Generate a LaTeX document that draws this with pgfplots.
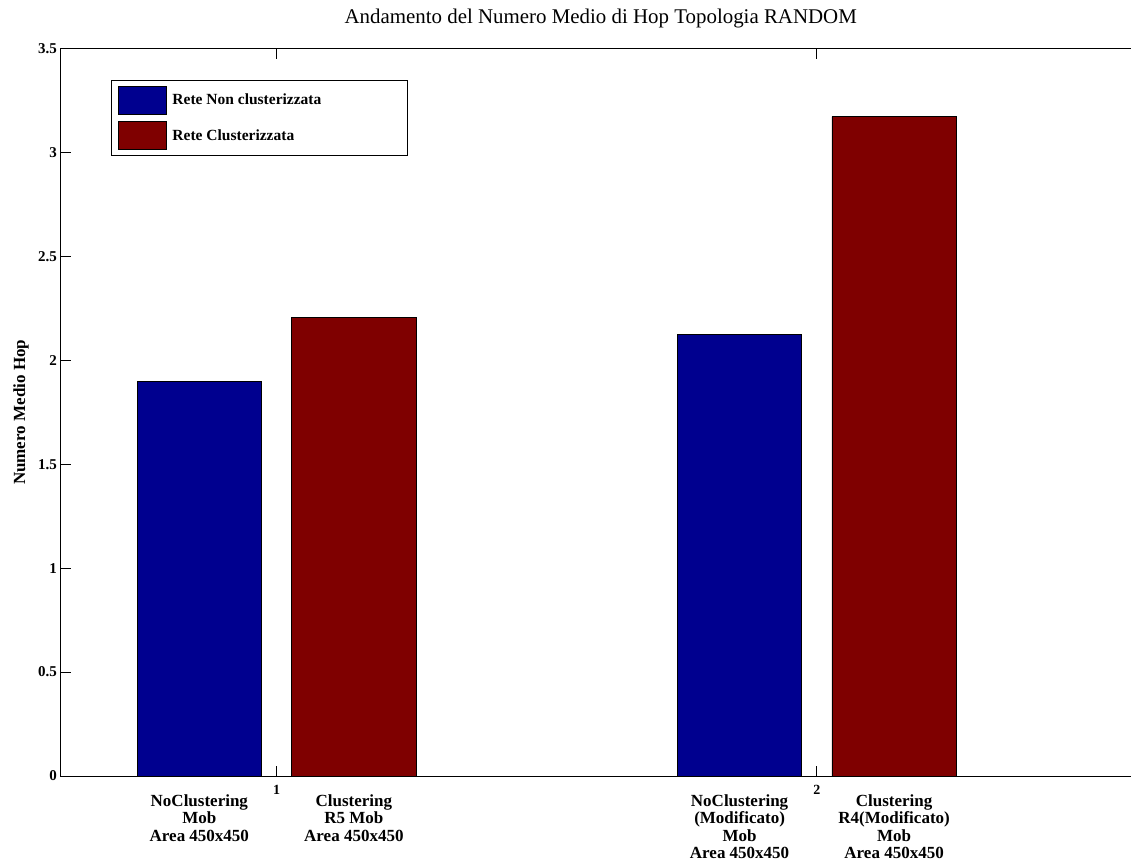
\documentclass[border=0pt]{standalone}
\usepackage{fontspec}
\setmainfont{Liberation Serif}
\usepackage{pgfplots}
\pgfplotsset{compat=1.18}
\definecolor{barblue}{RGB}{0,0,143}
\definecolor{barred}{RGB}{127,0,0}
\begin{document}
\begin{tikzpicture}
\begin{axis}[
  scale only axis, width=1080.5pt, height=727.3pt,
  xmin=0.6, xmax=2.6, ymin=0, ymax=3.5,
  xtick={1,2}, xticklabels={1,2},
  ytick={0,0.5,1,1.5,2,2.5,3,3.5}, yticklabels={0,0.5,1,1.5,2,2.5,3,3.5},
  tick align=inside, major tick length=10pt,
  tick style={black, line width=0.8pt},
  axis line style={line width=0.8pt},
  xticklabel style={font=\bfseries\fontsize{14}{16}\selectfont, yshift=-6pt},
  yticklabel style={font=\bfseries\fontsize{15}{17}\selectfont},
  ylabel={Numero Medio Hop},
  ylabel style={at={(axis description cs:-0.0366,0.5)}, anchor=center, font=\bfseries\fontsize{17}{19}\selectfont},
  title={Andamento del Numero Medio di Hop Topologia RANDOM},
  title style={at={(axis description cs:0.5,1)}, anchor=base, yshift=18.7pt, font=\fontsize{20.9}{24}\selectfont},
  clip=false,
  legend image code/.code={\draw[#1] (0pt,-14pt) rectangle (48pt,14pt);},
  legend cell align=left,
  legend style={at={(axis description cs:0.0467,0.957)}, anchor=north west,
    draw=black, line width=0.8pt, fill=white, inner xsep=7pt, inner ysep=5.5pt,
    row sep=7pt, nodes={inner sep=1.5pt},
    font=\bfseries\fontsize{15.5}{17}\selectfont,
    /tikz/every odd column/.append style={column sep=4pt}},
]
\addplot[ybar, bar width=0.23, bar shift=-0.143, fill=barblue, draw=black, line width=0.6pt]
  coordinates {(1,1.8975) (2,2.1256)};
\addlegendentry{\makebox[226pt][l]{Rete Non clusterizzata}}
\addplot[ybar, bar width=0.23, bar shift=0.143, fill=barred, draw=black, line width=0.6pt]
  coordinates {(1,2.207) (2,3.173)};
\addlegendentry{Rete Clusterizzata}
\begin{scope}[every node/.style={anchor=north, align=center, inner sep=0pt, font=\bfseries\fontsize{17}{17.5}\selectfont}]
\node[yshift=-18pt] at (axis cs:0.857,0) {NoClustering\\Mob\\Area 450x450};
\node[yshift=-18pt] at (axis cs:1.143,0) {Clustering\\R5 Mob\\Area 450x450};
\node[yshift=-18pt] at (axis cs:1.857,0) {NoClustering\\(Modificato)\\Mob\\Area 450x450};
\node[yshift=-18pt] at (axis cs:2.143,0) {Clustering\\R4(Modificato)\\Mob\\Area 450x450};
\end{scope}
\end{axis}
\pgfresetboundingbox
\path[use as bounding box] ([xshift=-60.5pt,yshift=-85pt]current axis.south west) rectangle ([xshift=-10pt,yshift=48.7pt]current axis.north east);
\end{tikzpicture}
\end{document}
